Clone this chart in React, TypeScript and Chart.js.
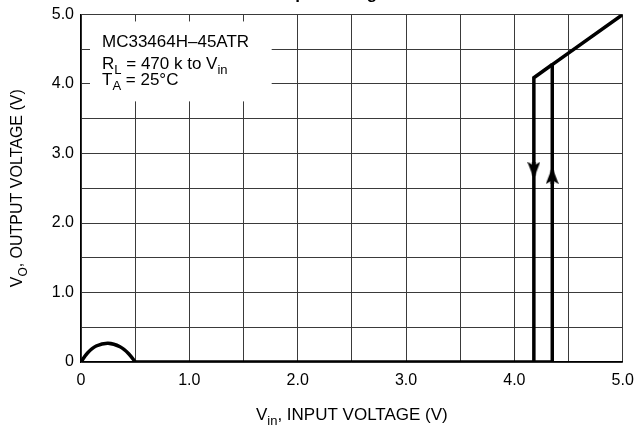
import React, { useEffect, useRef } from 'react';
import { Chart, registerables } from 'chart.js';

Chart.register(...registerables);

// ---- data ----
const humpVin = [0, 0.06, 0.14, 0.25, 0.36, 0.44, 0.5];
const humpVo = [0, 0.13, 0.23, 0.27, 0.22, 0.12, 0];
const riseVin = [0.5, 4.35, 4.35, 5.0];
const riseVo = [0, 0, 4.28, 5.0];
const fallVin = [4.35, 4.18, 4.18];
const fallVo = [4.28, 4.09, 0];
const arrowVin = [4.18, 4.35];
const arrowVo = [2.76, 2.68];
const arrowRotation = [0, 180];
const xTickValues = [0, 1, 2, 3, 4, 5];
const yTickValues = [0, 1, 2, 3, 4, 5];

const chartTitle = 'Output Voltage';
const xTitle = [{ t: 'V' }, { t: 'in', sub: true }, { t: ', INPUT VOLTAGE (V)' }];
const yTitle = [{ t: 'V' }, { t: 'O', sub: true }, { t: ', OUTPUT VOLTAGE (V)' }];
const noteLines = [
  [{ t: 'MC33464H\u201345ATR' }],
  [{ t: 'R' }, { t: 'L', sub: true }, { t: ' = 470 k to V' }, { t: 'in', sub: true }],
  [{ t: 'T' }, { t: 'A', sub: true }, { t: ' = 25\u00B0C' }],
];
const noteBox = { x0: 0.083, x1: 1.76, y0: 3.75, y1: 4.9 };

const FONT = '"Liberation Sans", Arial, Helvetica, sans-serif';
const OFF = 20; // canvas shifted up so the title is clipped

type Seg = { t: string; sub?: boolean };

function drawRich(ctx: CanvasRenderingContext2D, segs: Seg[], x: number, y: number, size: number, align: 'left' | 'center') {
  const subSize = Math.round(size * 0.78);
  let total = 0;
  for (const s of segs) {
    ctx.font = `${s.sub ? subSize : size}px ${FONT}`;
    total += ctx.measureText(s.t).width;
  }
  let cx = align === 'center' ? x - total / 2 : x;
  ctx.textAlign = 'left';
  ctx.textBaseline = 'alphabetic';
  for (const s of segs) {
    ctx.font = `${s.sub ? subSize : size}px ${FONT}`;
    ctx.fillText(s.t, cx, s.sub ? y + size * 0.32 : y);
    cx += ctx.measureText(s.t).width;
  }
}

function makeArrowHead(): HTMLCanvasElement {
  // downward pointing barbed arrowhead
  const w = 13;
  const h = 17;
  const c = document.createElement('canvas');
  c.width = w;
  c.height = h;
  const g = c.getContext('2d')!;
  g.fillStyle = '#000';
  g.beginPath();
  g.moveTo(w / 2, h);
  g.lineTo(0, 0);
  g.lineTo(w / 2, 4);
  g.lineTo(w, 0);
  g.closePath();
  g.fill();
  g.fillRect(w / 2 - 1.75, 0, 3.5, h - 3);
  return c;
}

const decorPlugin = {
  id: 'decor',
  beforeDatasetsDraw(chart: any) {
    const ctx = chart.ctx as CanvasRenderingContext2D;
    const xs = chart.scales.x;
    const ys = chart.scales.y;
    const l = xs.getPixelForValue(noteBox.x0);
    const r = xs.getPixelForValue(noteBox.x1);
    const t = ys.getPixelForValue(noteBox.y1);
    const b = ys.getPixelForValue(noteBox.y0);
    ctx.save();
    ctx.fillStyle = '#fff';
    ctx.fillRect(l, t, r - l, b - t);
    ctx.fillStyle = '#000';
    const baselines = [46.5 + OFF, 68.5 + OFF, 85 + OFF];
    noteLines.forEach((line, i) => drawRich(ctx, line as Seg[], 102, baselines[i], 17, 'left'));
    ctx.restore();
  },
  afterDraw(chart: any) {
    const ctx = chart.ctx as CanvasRenderingContext2D;
    const area = chart.chartArea;
    ctx.save();
    ctx.fillStyle = '#000';
    // clipped title
    ctx.font = `bold 17px ${FONT}`;
    ctx.textAlign = 'left';
    ctx.textBaseline = 'alphabetic';
    ctx.fillText(chartTitle, 266, OFF - 1);
    // x axis title
    drawRich(ctx, xTitle as Seg[], (area.left + area.right) / 2, 420 + OFF, 17, 'center');
    // y axis title
    ctx.translate(22, (area.top + area.bottom) / 2);
    ctx.rotate(-Math.PI / 2);
    drawRich(ctx, yTitle as Seg[], 0, 0, 16, 'center');
    ctx.restore();
  },
};

function fmt(v: number) {
  return v === 0 ? '0' : v.toFixed(1);
}

const halfSteps = (s: any) => {
  s.ticks = [] as any[];
  for (let i = 0; i <= 10; i++) s.ticks.push({ value: i / 2 });
};

export default function App() {
  const ref = useRef<HTMLCanvasElement>(null);
  useEffect(() => {
    if (!ref.current) return;
    const line = (xv: number[], yv: number[], tension = 0) => ({
      type: 'line' as const,
      data: xv.map((x, i) => ({ x, y: yv[i] })),
      borderColor: '#000',
      borderWidth: 3.5,
      pointRadius: 0,
      tension,
      fill: false,
      borderJoinStyle: 'miter' as const,
      borderCapStyle: 'butt' as const,
    });
    const arrowImg = makeArrowHead();
    const chart = new Chart(ref.current, {
      type: 'line',
      data: {
        datasets: [
          line(humpVin, humpVo, 0.35),
          line(riseVin, riseVo),
          line(fallVin, fallVo),
          {
            type: 'scatter' as const,
            data: arrowVin.map((x, i) => ({ x, y: arrowVo[i] })),
            pointStyle: arrowImg,
            pointRadius: 8,
            pointRotation: arrowRotation,
            backgroundColor: '#000',
            borderColor: '#000',
            borderWidth: 0,
          } as any,
        ],
      },
      plugins: [decorPlugin],
      options: {
        responsive: false,
        animation: false,
        events: [],
        layout: { padding: { top: 14.5 + OFF, right: 13.3, left: 0, bottom: 0 } },
        plugins: { legend: { display: false }, tooltip: { enabled: false }, title: { display: false } },
        scales: {
          x: {
            type: 'linear',
            min: 0,
            max: 5,
            afterBuildTicks: halfSteps,
            afterFit: (s: any) => {
              s.height = 436 - 362;
              s.paddingLeft = 0;
              s.paddingRight = 0;
            },
            ticks: {
              autoSkip: false,
              maxRotation: 0,
              padding: 9,
              color: '#000',
              font: { family: FONT, size: 16 },
              callback: (v: any) => (xTickValues.includes(Number(v)) ? fmt(Number(v)) : ''),
            },
            grid: { color: '#3a3a3a', lineWidth: 1, drawTicks: false },
            border: { display: true, color: '#000', width: 1.2 },
          },
          y: {
            type: 'linear',
            min: 0,
            max: 5,
            afterBuildTicks: halfSteps,
            afterFit: (s: any) => {
              s.width = 81;
              s.paddingTop = 0;
              s.paddingBottom = 0;
            },
            ticks: {
              autoSkip: false,
              padding: 7,
              color: '#000',
              font: { family: FONT, size: 16 },
              callback: (v: any) => (yTickValues.includes(Number(v)) ? fmt(Number(v)) : ''),
            },
            grid: { color: '#3a3a3a', lineWidth: 1, drawTicks: false },
            border: { display: true, color: '#000', width: 1.2 },
          },
        },
      } as any,
    });
    return () => chart.destroy();
  }, []);
  return (
    <div style={{ position: 'fixed', left: 0, top: 0, width: 636, height: 436, overflow: 'hidden', background: '#fff' }}>
      <canvas
        ref={ref}
        width={636}
        height={436 + OFF}
        style={{ position: 'absolute', left: 0, top: -OFF, width: 636, height: 436 + OFF }}
      />
    </div>
  );
}
